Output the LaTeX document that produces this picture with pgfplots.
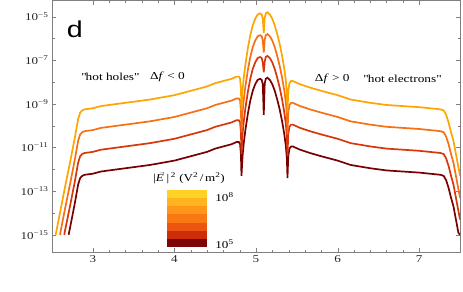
\documentclass[border=0pt]{standalone}
\usepackage{fontspec}
\setmainfont{Liberation Serif}[FakeStretch=1.25]
\newfontfamily\dfont{Liberation Sans}[FakeStretch=1.25]
\usepackage{graphicx}
\usepackage{pgfplots}
\usepackage{pgfplotstable}
\pgfplotsset{compat=1.18}
\definecolor{cA}{RGB}{120,0,0}
\definecolor{cB}{RGB}{215,55,10}
\definecolor{cC}{RGB}{247,112,20}
\definecolor{cD}{RGB}{255,165,0}
\definecolor{b1}{RGB}{125,5,5}
\definecolor{b2}{RGB}{205,45,10}
\definecolor{b3}{RGB}{235,85,15}
\definecolor{b4}{RGB}{250,120,20}
\definecolor{b5}{RGB}{255,150,25}
\definecolor{b6}{RGB}{255,180,30}
\definecolor{b7}{RGB}{255,210,40}
\pgfplotstableread{
E c1 c2 c3 c4
2.545 nan nan nan 1e-15
2.597 nan nan 1e-15 nan
2.600 nan nan 1.122e-15 1.122e-14
2.650 nan 1e-15 nan nan
2.660 nan 1.585e-15 1.585e-14 1.585e-13
2.704 1e-15 nan nan nan
2.720 1.995e-15 1.995e-14 1.995e-13 1.995e-12
2.780 2.818e-14 2.818e-13 2.818e-12 2.818e-11
2.820 1.995e-13 1.995e-12 1.995e-11 1.995e-10
2.845 3.981e-13 3.981e-12 3.981e-11 3.981e-10
2.870 5.012e-13 5.012e-12 5.012e-11 5.012e-10
2.900 5.623e-13 5.623e-12 5.623e-11 5.623e-10
3.000 6.310e-13 6.310e-12 6.310e-11 6.310e-10
3.100 7.943e-13 7.943e-12 7.943e-11 7.943e-10
3.300 1.000e-12 1.000e-11 1.000e-10 1.000e-9
3.500 1.259e-12 1.259e-11 1.259e-10 1.259e-9
3.700 1.585e-12 1.585e-11 1.585e-10 1.585e-9
3.850 1.995e-12 1.995e-11 1.995e-10 1.995e-9
4.000 2.512e-12 2.512e-11 2.512e-10 2.512e-9
4.200 3.981e-12 3.981e-11 3.981e-10 3.981e-9
4.400 6.310e-12 6.310e-11 6.310e-10 6.310e-9
4.500 8.913e-12 8.913e-11 8.913e-10 8.913e-9
4.600 1.122e-11 1.122e-10 1.122e-9 1.122e-8
4.700 1.413e-11 1.413e-10 1.413e-9 1.413e-8
4.760 1.778e-11 1.778e-10 1.778e-9 1.778e-8
4.790 1.778e-11 1.778e-10 1.778e-9 1.778e-8
4.805 1.413e-11 1.413e-10 1.413e-9 1.413e-8
4.815 5.012e-12 5.012e-11 5.012e-10 5.012e-9
4.822 5.012e-13 5.012e-12 5.012e-11 5.012e-10
4.835 3.981e-12 3.981e-11 3.981e-10 3.981e-9
4.850 1.585e-11 1.585e-10 1.585e-9 1.585e-8
4.870 6.310e-11 6.310e-10 6.310e-9 6.310e-8
4.900 3.548e-10 3.548e-9 3.548e-8 3.548e-7
4.930 1.413e-9 1.413e-8 1.413e-7 1.413e-6
4.960 3.981e-9 3.981e-8 3.981e-7 3.981e-6
4.990 7.943e-9 7.943e-8 7.943e-7 7.943e-6
5.020 1.259e-8 1.259e-7 1.259e-6 1.259e-5
5.050 1.413e-8 1.413e-7 1.413e-6 1.413e-5
5.070 1.259e-8 1.259e-7 1.259e-6 1.259e-5
5.083 7.943e-9 7.943e-8 7.943e-7 7.943e-6
5.095 3.162e-10 2.818e-8 2.239e-7 1.778e-6
5.107 8.913e-9 8.913e-8 8.913e-7 8.913e-6
5.120 1.413e-8 1.413e-7 1.413e-6 1.413e-5
5.140 1.585e-8 1.585e-7 1.585e-6 1.585e-5
5.170 1.259e-8 1.259e-7 1.259e-6 1.259e-5
5.200 7.943e-9 7.943e-8 7.943e-7 7.943e-6
5.230 3.981e-9 3.981e-8 3.981e-7 3.981e-6
5.260 1.585e-9 1.585e-8 1.585e-7 1.585e-6
5.290 5.623e-10 5.623e-9 5.623e-8 5.623e-7
5.320 1.585e-10 1.585e-9 1.585e-8 1.585e-7
5.345 4.467e-11 4.467e-10 4.467e-9 4.467e-8
5.365 1.259e-11 1.259e-10 1.259e-9 1.259e-8
5.378 3.162e-12 3.162e-11 3.162e-10 3.162e-9
5.386 3.981e-13 3.981e-12 3.981e-11 3.981e-10
5.395 3.981e-12 3.981e-11 3.981e-10 3.981e-9
5.410 8.913e-12 8.913e-11 8.913e-10 8.913e-9
5.430 1.122e-11 1.122e-10 1.122e-9 1.122e-8
5.450 1.122e-11 1.122e-10 1.122e-9 1.122e-8
5.540 7.943e-12 7.943e-11 7.943e-10 7.943e-9
5.660 5.623e-12 5.623e-11 5.623e-10 5.623e-9
5.800 3.981e-12 3.981e-11 3.981e-10 3.981e-9
6.000 2.512e-12 2.512e-11 2.512e-10 2.512e-9
6.160 1.585e-12 1.585e-11 1.585e-10 1.585e-9
6.400 1.122e-12 1.122e-11 1.122e-10 1.122e-9
6.600 8.913e-13 8.913e-12 8.913e-11 8.913e-10
6.800 7.943e-13 7.943e-12 7.943e-11 7.943e-10
7.000 7.079e-13 7.079e-12 7.079e-11 7.079e-10
7.260 5.623e-13 5.623e-12 5.623e-11 5.623e-10
7.300 5.012e-13 5.012e-12 5.012e-11 5.012e-10
7.330 3.162e-13 3.162e-12 3.162e-11 3.162e-10
7.360 1.413e-13 1.413e-12 1.413e-11 1.413e-10
7.390 5.012e-14 5.012e-13 5.012e-12 5.012e-11
7.420 1.995e-14 1.995e-13 1.995e-12 1.995e-11
7.450 5.012e-15 5.012e-14 5.012e-13 5.012e-12
7.480 1.259e-15 1.259e-14 1.259e-13 1.259e-12
7.500 1.000e-15 5.012e-15 5.012e-14 5.012e-13
}\datatab
\begin{document}
\begin{tikzpicture}
\begin{axis}[
  scale only axis, width=408bp, height=251.5bp,
  ymode=log, xmin=2.5, xmax=7.5, ymin=1.62e-16, ymax=5.5e-5,
  xtick={3,4,5,6,7}, xticklabels={3,4,5,6,7}, minor x tick num=4,
  ytick={1e-15,1e-13,1e-11,1e-9,1e-7,1e-5},
  yticklabels={10\textsuperscript{−15},10\textsuperscript{−13},10\textsuperscript{−11},10\textsuperscript{−9},10\textsuperscript{−7},10\textsuperscript{−5}},
  minor ytick={1e-14,1e-12,1e-10,1e-8,1e-6},
  tick align=inside, major tick length=4bp, minor tick length=2.5bp,
  axis line style={gray}, tick style={gray},
  ticklabel style={font=\fontsize{10.5}{12}\selectfont, text=black!85},
  unbounded coords=discard,
]
\addplot[cA, line width=1.7bp] table[x=E, y=c1] {\datatab};
\addplot[cB, line width=1.7bp] table[x=E, y=c2] {\datatab};
\addplot[cC, line width=1.7bp] table[x=E, y=c3] {\datatab};
\addplot[cD, line width=1.7bp] table[x=E, y=c4] {\datatab};
\fill[b1] (rel axis cs:0.282,0.0200) rectangle (rel axis cs:0.380,0.0524);
\fill[b2] (rel axis cs:0.282,0.0524) rectangle (rel axis cs:0.380,0.0847);
\fill[b3] (rel axis cs:0.282,0.0847) rectangle (rel axis cs:0.380,0.1171);
\fill[b4] (rel axis cs:0.282,0.1171) rectangle (rel axis cs:0.380,0.1494);
\fill[b5] (rel axis cs:0.282,0.1494) rectangle (rel axis cs:0.380,0.1818);
\fill[b6] (rel axis cs:0.282,0.1818) rectangle (rel axis cs:0.380,0.2142);
\fill[b7] (rel axis cs:0.282,0.2142) rectangle (rel axis cs:0.380,0.2465);
\node[anchor=west, font=\fontsize{10.5}{12}\selectfont] at (rel axis cs:0.392,0.219) {10\textsuperscript{8}};
\node[anchor=west, font=\fontsize{10.5}{12}\selectfont] at (rel axis cs:0.392,0.030) {10\textsuperscript{5}};
\node[font=\fontsize{10.5}{12}\selectfont] at (rel axis cs:0.336,0.294) {|\textit{E}\kern-0.55em\raisebox{0.62em}{\scalebox{0.6}{→}}\kern0.05em|\,\textsuperscript{2} (V\textsuperscript{2}\,/\,m\textsuperscript{2})};
\node[font=\dfont\fontsize{23}{23}\selectfont] at (rel axis cs:0.056,0.887) {d};
\node[font=\fontsize{10.7}{12}\selectfont] at (rel axis cs:0.142,0.698) {\textquotedbl hot holes\textquotedbl};
\node[font=\fontsize{10.7}{12}\selectfont] at (rel axis cs:0.283,0.698) {Δ\textit{f} < 0};
\node[font=\fontsize{10.7}{12}\selectfont] at (rel axis cs:0.687,0.688) {Δ\textit{f} > 0};
\node[font=\fontsize{10.7}{12}\selectfont] at (rel axis cs:0.858,0.688) {\textquotedbl hot electrons\textquotedbl};
\node[rotate=90, font=\fontsize{10.7}{12}\selectfont] at (rel axis cs:-0.103,0.608) {|Δ\textit{f}|};
\node[font=\fontsize{10.7}{12}\selectfont] at (rel axis cs:0.51,-0.123) {\scalebox{1.25}[1]{$\mathcal{E}$} (\textit{eV})};
\end{axis}
\pgfresetboundingbox
\path[use as bounding box] ([xshift=-52bp,yshift=-39bp]current axis.south west) rectangle ([xshift=3bp,yshift=0.5bp]current axis.north east);
\end{tikzpicture}
\end{document}
